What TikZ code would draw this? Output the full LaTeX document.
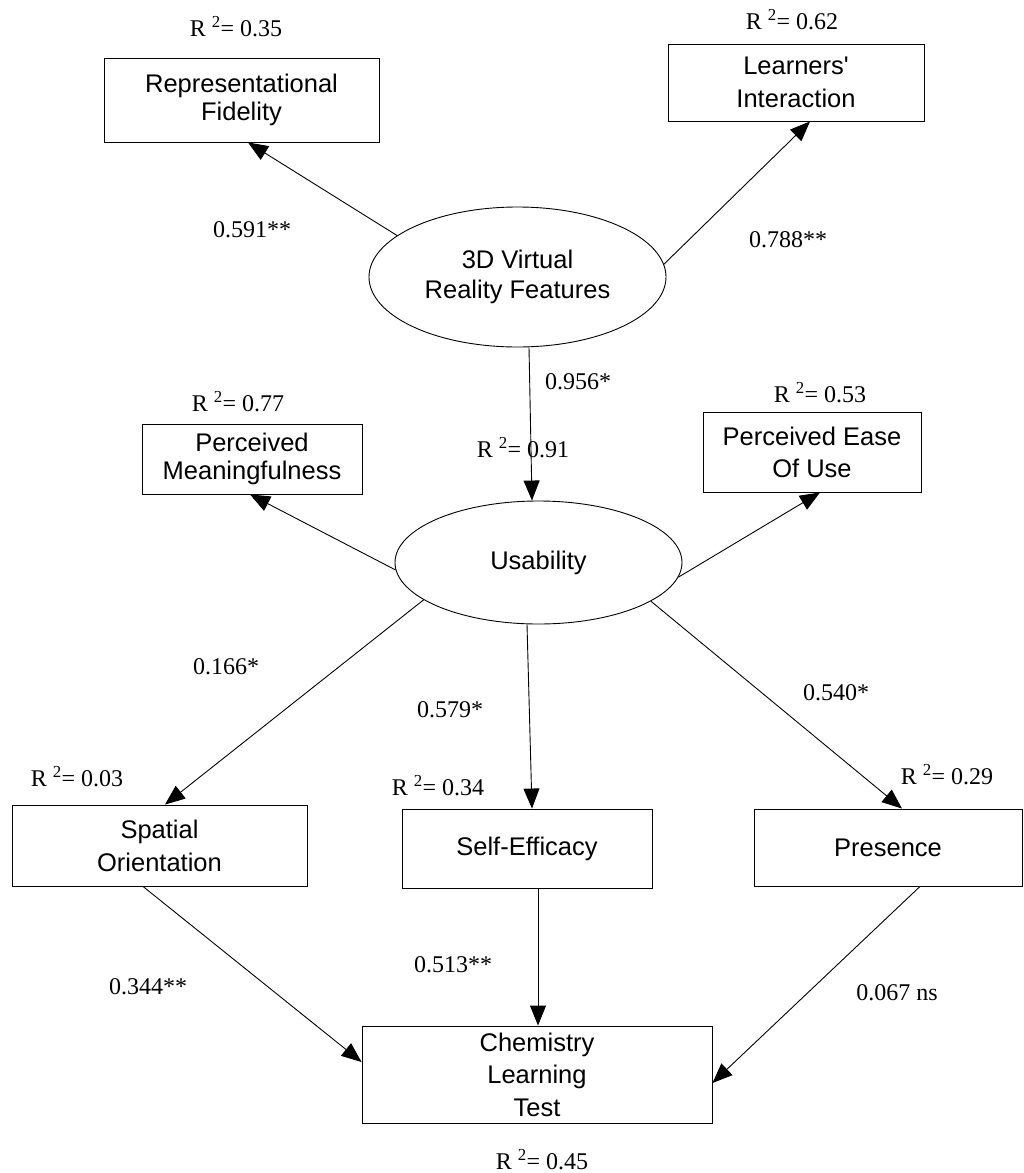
\documentclass[tikz,border=0pt]{standalone}
\usepackage{fontspec}
\setmainfont{Liberation Serif}
\newfontfamily\boxfont{Liberation Sans}
\usetikzlibrary{shapes.geometric,arrows.meta}
\begin{document}
\begin{tikzpicture}[x=1pt,y=-1pt,
  box/.style={draw, line width=0.9pt, rectangle, inner sep=0pt, align=center},
  lat/.style={draw, ellipse, line width=0.9pt, inner sep=0pt, align=center},
  bf/.style={font=\boxfont\fontsize{25.5}{#1}\selectfont},
  lab/.style={font=\fontsize{24}{28}\selectfont, inner sep=0pt},
  arr/.style={line width=0.9pt, -{Triangle[length=20pt,width=16pt]}}]
\fill[white] (0,0) rectangle (1024,1173);
\useasboundingbox (0,0) rectangle (1024,1173);

% nodes
\node[box, bf=28, minimum width=275pt, minimum height=84pt] (rf) at (241.5,100) {Representational\\Fidelity};
\node[box, bf=33, minimum width=256pt, minimum height=77pt] (li) at (796,82.5) {Learners'\\Interaction};
\node[lat, bf=30, minimum width=297pt, minimum height=140pt] (vr) at (517.5,277) {3D Virtual\\Reality Features};
\node[box, bf=28, minimum width=220pt, minimum height=70pt] (pm) at (252,459) {Perceived\\Meaningfulness};
\node[box, bf=32, minimum width=218pt, minimum height=80pt] (pe) at (812,452) {Perceived Ease\\Of Use};
\node[lat, bf=30, minimum width=287pt, minimum height=123pt] (us) at (538.5,562.5) {Usability};
\node[box, bf=33, minimum width=295pt, minimum height=81pt] (so) at (159.5,845.5) {Spatial\\Orientation};
\node[box, bf=30, minimum width=250pt, minimum height=79pt] (se) at (527,848.5) {Self-Efficacy};
\node[box, bf=30, minimum width=268pt, minimum height=77pt] (pr) at (888,847.5) {Presence};
\node[box, bf=32.5, minimum width=350pt, minimum height=97pt] (ch) at (537,1074.5) {Chemistry\\Learning\\Test};

% labels
\node[lab] (r1) at (236,27) {R \textsuperscript{2}= 0.35};
\node[lab] (r2) at (792,20) {R \textsuperscript{2}= 0.62};
\node[lab] (c1) at (252,230) {0.591**};
\node[lab] (c2) at (788,240) {0.788**};
\node[lab] (c3) at (578,382) {0.956*};
\node[lab] (r3) at (523,448) {R \textsuperscript{2}= 0.91};
\node[lab] (r4) at (238,402) {R \textsuperscript{2}= 0.77};
\node[lab] (r5) at (820,393) {R \textsuperscript{2}= 0.53};
\node[lab] (c4) at (226,667) {0.166*};
\node[lab] (c5) at (450,710) {0.579*};
\node[lab] (c6) at (836,693) {0.540*};
\node[lab] (r6) at (77,777) {R \textsuperscript{2}= 0.03};
\node[lab] (r7) at (438,786) {R \textsuperscript{2}= 0.34};
\node[lab] (r8) at (947,775) {R \textsuperscript{2}= 0.29};
\node[lab] (c7) at (148,987) {0.344**};
\node[lab] (c8) at (453,965) {0.513**};
\node[lab] (c9) at (897,993) {0.067 ns};
\node[lab] (r9) at (542,1160) {R \textsuperscript{2}= 0.45};

% connectors
\draw[arr] (vr.161.2) -- ([xshift=6.5pt]rf.south);
\draw[arr] (vr.5) -- ([xshift=14pt]li.south);
\draw[arr] ([xshift=11.5pt]vr.south) -- ([xshift=-6.5pt]us.north);
\draw[arr] (us.183.8) -- ([xshift=-2pt]pm.south);
\draw[arr] (us.-6) -- ([xshift=8pt]pe.south);
\draw[arr] (us.198.9) -- ([xshift=5.5pt]so.north);
\draw[arr] ([xshift=-11.5pt]us.south) -- ([xshift=5pt]se.north);
\draw[arr] (us.-19) -- ([xshift=14pt]pr.north);
\draw[arr] ([xshift=-16.5pt]so.south) -- ([yshift=12.5pt]ch.west);
\draw[arr] ([xshift=11pt]se.south) -- ([xshift=1pt]ch.north);
\draw[arr] ([xshift=32pt]pr.south) -- ([yshift=-8.5pt]ch.east);
\end{tikzpicture}
\end{document}
